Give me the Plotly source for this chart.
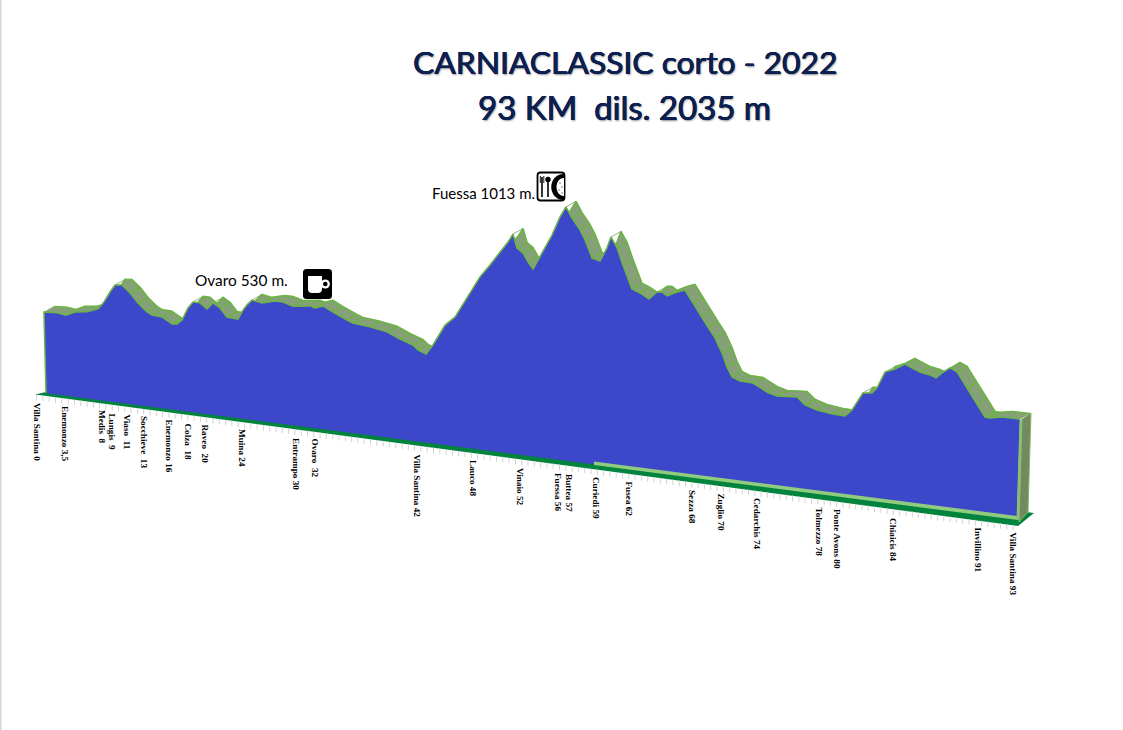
import numpy as np
import plotly.graph_objects as go

# ---------- data ----------
dist = [-0.1,1.14,2.0,2.86,4.0,5.05,5.62,6.19,6.67,7.33,8.10,8.86,9.71,10.19,11.14,12.10,12.57,13.05,13.62,14.10,
        14.76,15.43,16.0,16.67,17.33,18.38,18.86,19.24,19.71,20.67,21.9,22.67,23.62,25.24,25.71,26.48,27.43,28.76,29.33,30.95,
        32.57,33.81,35.05,35.52,36.29,36.95,38.10,39.05,40.48,41.43,42.38,43.33,44.10,44.57,44.95,45.52,46.0,46.48,47.33,48.29,
        49.05,49.62,50.19,50.95,51.43,52.10,52.86,53.52,53.90,54.48,55.05,55.90,56.67,57.52,58.29,58.76,59.24,60.19,60.95,61.71,
        62.57,63.14,63.81,64.48,64.95,65.43,66.19,67.43,68.76,69.71,71.62,72.38,73.52,75.05,76.19,76.86,77.90,78.76,79.24,80.0,
        80.95,81.90,82.38,83.33,84.29,84.86,85.43,86.19,86.86,87.81,88.76,89.52,90.0,91.14,92.86]
elev = [384,387,383,399,405,421,449,488,516,519,494,461,433,424,422,401,403,420,467,491,
        491,472,497,482,452,450,485,506,526,520,533,533,523,532,527,538,520,498,490,484,
        474,454,438,423,412,448,526,560,655,718,766,818,858,889,840,825,795,771,834,904,
        974,1013,975,936,902,839,832,883,925,888,828,746,735,717,747,749,737,756,767,723,
        677,643,607,555,507,473,462,461,435,425,431,406,393,386,385,410,477,481,502,563,
        579,602,594,580,574,566,587,609,598,544,494,447,446,455,456]

places = ["Villa Santina 0","Enemonzo 3,5","Medis  8","Lungis  9","Viaso  11","Socchieve  13","Enemonzo 16",
          "Colza  18","Raveo  20","Muina 24","Entrampo 30","Ovaro  32","Villa Santina 42","Lauco 48","Vinaio 52",
          "Fuessa 56","Buttea 57","Curiedi 59","Fusea 62","Sezza 68","Zuglio 70","Cedarchis 74","Tolmezzo 78",
          "Ponte Avons 80","Chiaicis 84","Invillino 91","Villa Santina 93"]
place_dist = [-0.76,1.90,5.43,6.29,7.81,9.43,11.90,13.62,15.24,18.76,23.90,25.71,35.43,40.76,45.24,48.86,49.90,
              52.48,55.62,61.62,64.38,67.81,73.62,75.43,80.76,88.95,92.19]
place_gap = [10,9.4,8.6,10.4,9.3,9.1,9.8,10.4,9.2,9.4,11.4,9.9,11.6,10.4,12.2,12.3,11.9,11.4,11.1,11.9,12.1,
             11.4,12.5,12,13.8,12.6,13.2]

title_lines = ["CARNIACLASSIC corto - 2022", "93 KM  dils. 2035 m"]
stop_labels = ["Ovaro 530 m.", "Fuessa 1013 m."]

# ---------- oblique projection (metres per pixel, skew of the ground line) ----------
W, H = 1123, 730
M_PER_PX = 3.636
BASE_M = 90
SKEW = 4.963          # metres of apparent drop per unit of distance
DEPTH_X = 0.95        # ribbon depth, distance units
DEPTH_Y = 20          # ribbon depth, metres

def proj(d, h):
    return np.asarray(h, float) - BASE_M - SKEW * np.asarray(d, float)

def ground(d, gap_px=0.0):
    return -SKEW * np.asarray(d, float) - np.asarray(gap_px, float) * M_PER_PX

d = np.array(dist, float)
z = np.array(elev, float)
top = proj(d, z)

# ribbon quads
rx, ry, cx, cy = [], [], [], []
for i in range(len(d) - 1):
    rx += [d[i], d[i+1], d[i+1] + DEPTH_X, d[i] + DEPTH_X, d[i], None]
    ry += [top[i], top[i+1], top[i+1] + DEPTH_Y, top[i] + DEPTH_Y, top[i], None]
    if z[i+1] < z[i]:
        cx += [d[i+1], d[i+1] + DEPTH_X, None]
        cy += [top[i+1], top[i+1] + DEPTH_Y, None]

GREEN = "#6cb446"
fig = go.Figure()
fig.add_trace(go.Scatter(x=rx, y=ry, mode="lines", fill="toself", fillcolor="#86a077",
                         line=dict(color="#86a077", width=0.5), hoverinfo="skip"))
fig.add_trace(go.Scatter(x=cx, y=cy, mode="lines", line=dict(color=GREEN, width=1.5), hoverinfo="skip"))
fig.add_trace(go.Scatter(x=d + DEPTH_X, y=top + DEPTH_Y, mode="lines", line=dict(color=GREEN, width=1.7), hoverinfo="skip"))

# blue face
bx0, bx1 = 0.1, 92.57
face_x = [bx0] + list(d) + [bx1]
face_y = [float(ground(bx0))] + list(top) + [float(ground(bx1))]
fig.add_trace(go.Scatter(x=face_x, y=face_y, mode="lines", fill="toself", fillcolor="#3D47C9",
                         line=dict(color="rgba(0,0,0,0)", width=0), hoverinfo="skip"))
fig.add_trace(go.Scatter(x=face_x[:-1], y=face_y[:-1], mode="lines", line=dict(color=GREEN, width=1.5), hoverinfo="skip"))

# ground ticks
tick_d = np.arange(-0.8, 92.8, 0.6)
fig.add_trace(go.Scatter(x=tick_d, y=ground(tick_d, 5.6 + 0.035 * tick_d), mode="markers",
                         marker=dict(symbol="line-ns", size=4, line=dict(color="#cfd4cf", width=1)), hoverinfo="skip"))

# ---------- pixel helpers for decoration ----------
def P(x, y):
    return f"{x/W:.5f},{1-y/H:.5f}"

def path(*cmds):
    out = []
    for c in cmds:
        if isinstance(c, str):
            out.append(c)
        else:
            out.append(P(*c))
    return " ".join(out)

def poly(pts, fill, line=None, lw=0, layer="above"):
    s = "M " + " L ".join(P(*p) for p in pts) + " Z"
    return dict(type="path", xref="paper", yref="paper", path=s, fillcolor=fill, layer=layer,
                line=dict(color=line or fill, width=lw))

def rrect(x0, y0, x1, y1, r):
    return path("M", (x0 + r, y0), "L", (x1 - r, y0), "Q", (x1, y0), (x1, y0 + r), "L", (x1, y1 - r), "Q", (x1, y1), (x1 - r, y1),
                "L", (x0 + r, y1), "Q", (x0, y1), (x0, y1 - r), "L", (x0, y0 + r), "Q", (x0, y0), (x0 + r, y0), "Z")

def shp(p, fill, line=None, lw=0):
    return dict(type="path", xref="paper", yref="paper", path=p, fillcolor=fill, layer="above",
                line=dict(color=line or "rgba(0,0,0,0)", width=lw))

def disc(cx_, cy_, r, fill):
    return dict(type="circle", xref="paper", yref="paper", x0=(cx_-r)/W, x1=(cx_+r)/W, y0=1-(cy_+r)/H, y1=1-(cy_-r)/H,
                fillcolor=fill, line=dict(width=0), layer="above")

def seg(x0, y0, x1, y1, color="#000000", w=1.5):
    return dict(type="line", xref="paper", yref="paper", x0=x0/W, x1=x1/W, y0=1-y0/H, y1=1-y1/H,
                line=dict(color=color, width=w), layer="above")

shapes = [
    seg(0.8, 0, 0.8, H, "#d9d9d9", 1.6),
    # ground band, below the face
    poly([(35, 394.5), (46, 392), (1034, 513), (1018, 526)], "#00843D", layer="below"),
    # light strip at the foot of the face
    poly([(594, 461.5), (1017, 516), (1018, 520), (594, 465)], "#90cc7e"),
    # end wall
    poly([(1021, 420), (1031, 413), (1028, 512), (1019, 522)], "#74895f", "#7dbb63", 1),
    seg(1021, 420, 1018, 520, "#86c070", 3),
    # coffee icon
    shp(rrect(303, 269, 332, 299, 3.5), "#000000"),
    disc(325.3, 284, 4.6, "#ffffff"),
    disc(325.3, 284, 2.3, "#000000"),
    shp(path("M", (308, 276), "L", (322, 276), "L", (322, 289), "Q", (322, 293), (318, 293), "L", (312, 293), "Q", (308, 293), (308, 289), "Z"), "#ffffff"),
    # plate icon
    shp(rrect(537.5, 172.5, 564.5, 200.5, 3), "#ffffff", "#000000", 1.8),
    shp(path("M", (564, 174), "C", (547, 174), (547, 200), (564, 200), "Z"), "#000000"),
    shp(path("M", (564, 178), "C", (554, 178), (554, 196), (564, 196), "Z"), "#ffffff"),
    disc(560, 183, 0.7, "#555555"), disc(562, 187, 0.7, "#555555"), disc(559, 190, 0.7, "#555555"), disc(562, 193, 0.7, "#555555"),
    seg(542, 177, 542, 197, "#000000", 1.6),
    seg(540.3, 176, 540.3, 183, "#000000", 0.9), seg(543.8, 176, 543.8, 183, "#000000", 0.9),
    seg(548, 180, 548, 197, "#000000", 1.6),
    disc(548, 179.5, 2.7, "#000000"),
]

# ---------- text ----------
annots = []
for name, pd_, gap in zip(places, place_dist, place_gap):
    annots.append(dict(x=pd_, y=float(ground(pd_, gap)), xref="x", yref="y", text=name, showarrow=False,
                       textangle=90, xanchor="center", yanchor="top", borderpad=0,
                       font=dict(family="Liberation Serif", size=9.2, color="#000000", weight=700)))

NAVY = "#0B2050"
SHADOW = "0.45px 0 0 #0B2050, -0.3px 0 0 #0B2050, 0 0.4px 0 #0B2050, 1px 1px 2px #8a8a8a"
def pxt(text, x, y, size, color, anchor="center", **font):
    return dict(x=x/W, y=1-y/H, xref="paper", yref="paper", text=text, showarrow=False, xanchor=anchor, yanchor="middle",
                borderpad=0, font=dict(family="Lato", size=size, color=color, **font))

annots.append(pxt(title_lines[0], 624.5, 62, 31.8, NAVY, shadow=SHADOW))
annots.append(pxt(title_lines[1], 624.5, 107, 33, NAVY, shadow=SHADOW))
annots.append(pxt(stop_labels[0], 241.5, 280, 15.4, "#000000"))
annots.append(pxt(stop_labels[1], 483, 193, 15, "#000000"))

fig.update_layout(
    width=W, height=H, autosize=False, showlegend=False,
    margin=dict(l=0, r=0, t=0, b=0), paper_bgcolor="#ffffff", plot_bgcolor="#ffffff",
    xaxis=dict(range=[-45/10.5, (W-45)/10.5], visible=False, fixedrange=True),
    yaxis=dict(range=[(393-H)*M_PER_PX, 393*M_PER_PX], visible=False, fixedrange=True),
    shapes=shapes, annotations=annots,
)
fig.write_html("out.html", config={"displayModeBar": False},
               post_script="document.body.style.margin='0';document.body.style.overflow='hidden';")
